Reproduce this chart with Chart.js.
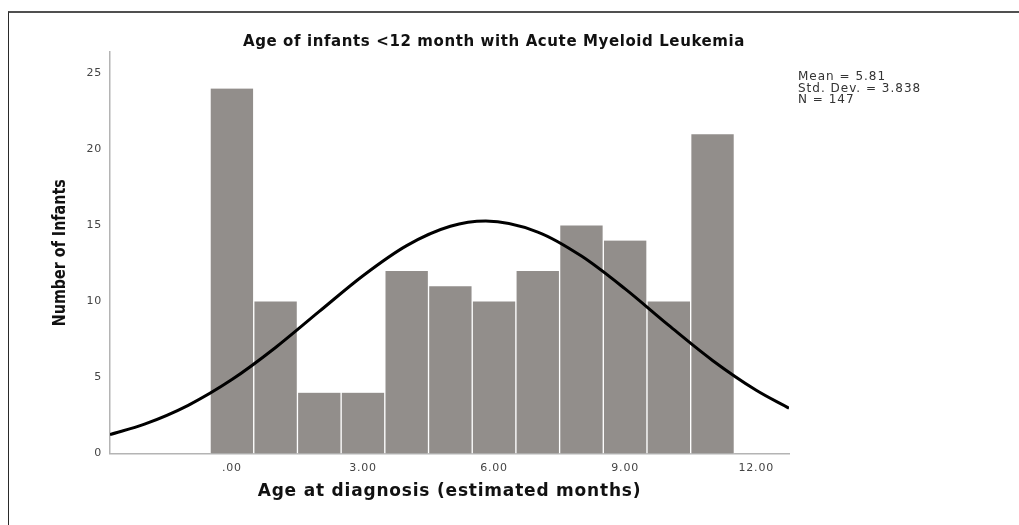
<!DOCTYPE html>
<html>
<head>
<meta charset="utf-8">
<title>Age of infants with AML</title>
<script src="https://cdn.jsdelivr.net/npm/chart.js@4.4.1/dist/chart.umd.min.js"></script>
<style>
  html,body{margin:0;padding:0;background:#fff;}
  #wrap{position:relative;width:1019px;height:525px;overflow:hidden;}
  #frame{position:absolute;left:8px;top:11px;right:-4px;bottom:-4px;border-top:2px solid #505050;border-left:1.5px solid #2a2a2a;}
  canvas{position:absolute;left:0;top:0;}
</style>
</head>
<body>
<div id="wrap">
  <div id="frame"></div>
  <canvas id="chart" width="1019" height="525"></canvas>
</div>
<script>
// texts
const TITLE   = 'Age of infants <12 month with Acute Myeloid Leukemia';
const X_TITLE = 'Age at diagnosis (estimated months)';
const Y_TITLE = 'Number of Infants';
const STATS   = ['Mean = 5.81', 'Std. Dev. = 3.838', 'N = 147'];

// histogram (bin centres, counts)
const ages   = [0, 1, 2, 3, 4, 5, 6, 7, 8, 9, 10, 11];
const counts = [24, 10, 4, 4, 12, 11, 10, 12, 15, 14, 10, 21];

// normal curve
const curveX = [-2.79, -2, -1, 0, 1, 2, 3, 4, 5, 5.81, 7, 8, 9, 10, 11, 12, 12.75];
const curveY = [1.24, 1.93, 3.17, 4.86, 6.97, 9.34, 11.69, 13.67, 14.94, 15.28, 14.56, 12.98, 10.82, 8.42, 6.12, 4.16, 2.98];

// axes
const X_MIN = -2.79, X_MAX = 12.75;
const Y_MIN = 0, Y_MAX = 26.4;
const xTicks      = [0, 3, 6, 9, 12];
const xTickLabels = ['.00', '3.00', '6.00', '9.00', '12.00'];
const yTicks      = [0, 5, 10, 15, 20, 25];

const BASE_FONT   = '"DejaVu Sans", "Liberation Sans", sans-serif';
const NARROW_FONT = '"Liberation Sans Narrow", "DejaVu Sans Condensed", "Liberation Sans", sans-serif';

// SPSS style: a bit of letter spacing on the axis texts
const spacingPlugin = {
  id: 'spacing',
  beforeDraw(chart){ chart.ctx.letterSpacing = '0.8px'; }
};

const textPlugin = {
  id: 'texts',
  afterDraw(chart){
    const c = chart.ctx;
    c.save();
    c.textBaseline = 'middle';
    c.fillStyle = '#111';
    c.letterSpacing = '0.6px';
    c.font = 'bold 15px ' + BASE_FONT;
    c.textAlign = 'center';
    c.fillText(TITLE, 494, 42);

    c.fillStyle = '#333';
    c.letterSpacing = '1px';
    c.font = '12px ' + BASE_FONT;
    c.textAlign = 'left';
    STATS.forEach((s, i) => c.fillText(s, 798, 77 + i * 11.5));

    // y title, condensed
    c.letterSpacing = '0px';
    c.fillStyle = '#111';
    c.font = 'bold 17px ' + NARROW_FONT;
    c.textAlign = 'center';
    c.translate(61, (chart.chartArea.top + chart.chartArea.bottom) / 2);
    c.rotate(-Math.PI / 2);
    const w = c.measureText(Y_TITLE).width;
    c.scale(Math.min(1, 147 / w), 1);
    c.fillText(Y_TITLE, 0, 0);
    c.restore();
  }
};

new Chart(document.getElementById('chart').getContext('2d'), {
  type: 'bar',
  data: {
    datasets: [
      {
        type: 'line',
        data: curveX.map((x, i) => ({x, y: curveY[i]})),
        borderColor: '#000',
        borderWidth: 3,
        pointRadius: 0,
        fill: false,
        cubicInterpolationMode: 'monotone',
        order: 0
      },
      {
        type: 'bar',
        data: ages.map((x, i) => ({x, y: counts[i]})),
        backgroundColor: '#928e8b',
        borderColor: '#ffffff',
        borderWidth: {left: 1, right: 1, top: 0, bottom: 0},
        borderSkipped: false,
        barPercentage: 1,
        categoryPercentage: 1,
        order: 1
      }
    ]
  },
  options: {
    responsive: false,
    animation: false,
    layout: { padding: {left: 0, top: 52, right: 230, bottom: 21.5} },
    plugins: { legend: {display: false}, tooltip: {enabled: false}, title: {display: false} },
    scales: {
      x: {
        type: 'linear',
        min: X_MIN, max: X_MAX,
        offset: false,
        grid: {display: false, drawTicks: false, offset: false},
        border: {display: true, color: '#b4b4b4', width: 1.5},
        afterBuildTicks: s => { s.ticks = xTicks.map(v => ({value: v})); },
        afterFit: s => { s.height = 50; },
        ticks: {
          padding: 8,
          color: '#444',
          font: {family: BASE_FONT, size: 11},
          maxRotation: 0,
          callback: v => xTickLabels[xTicks.indexOf(v)]
        },
        title: {
          display: true, text: X_TITLE, color: '#111',
          font: {family: BASE_FONT, size: 17, weight: 'bold'},
          padding: {top: 0, bottom: 2}
        }
      },
      y: {
        min: Y_MIN, max: Y_MAX,
        grid: {display: false, drawTicks: false},
        border: {display: true, color: '#b4b4b4', width: 1.5},
        afterBuildTicks: s => { s.ticks = yTicks.map(v => ({value: v})); },
        afterFit: s => { s.width = 110; },
        ticks: {
          padding: 8,
          color: '#444',
          font: {family: BASE_FONT, size: 11}
        },
        title: { display: false }
      }
    }
  },
  plugins: [spacingPlugin, textPlugin]
});
</script>
</body>
</html>
